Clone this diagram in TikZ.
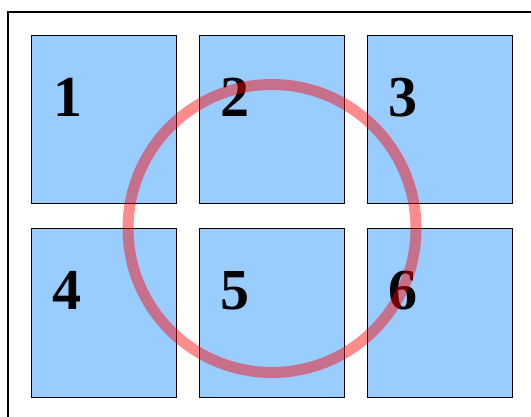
\documentclass[tikz,border=0pt]{standalone}
\usepackage{fontspec}
\setmainfont{Liberation Serif}
\definecolor{cellblue}{RGB}{153,204,255}
\tikzset{
  cell/.style={draw=black, line width=1pt, fill=cellblue, minimum width=145pt, minimum height=168pt, inner sep=0pt},
  num/.style={anchor=base west, inner sep=0pt, font=\fontsize{58}{58}\selectfont\bfseries},
}
\begin{document}
\begin{tikzpicture}[x=1pt, y=-1pt]
    \useasboundingbox (0,0) rectangle (531,417);
    \clip (0,0) rectangle (531,417);
    \draw[line width=1.5pt] (8,12) rectangle (560,440);

    \node[cell] (c1) at (103.5,120) {};
    \node[cell] (c2) at (271.5,120) {};
    \node[cell] (c3) at (439.5,120) {};
    \node[cell] (c4) at (103.5,313) {};
    \node[cell] (c5) at (271.5,313) {};
    \node[cell] (c6) at (439.5,313) {};

    \node[num] (n1) at (53,117) {1};
    \node[num] (n2) at (220,117) {2};
    \node[num] (n3) at (388,117) {3};
    \node[num] (n4) at (52,309) {4};
    \node[num] (n5) at (220,309) {5};
    \node[num] (n6) at (388,309) {6};

    \coordinate (mid) at (272,228.5);
    \draw[red, opacity=.45, line width=11pt] (mid) circle (144pt);
\end{tikzpicture}
\end{document}
